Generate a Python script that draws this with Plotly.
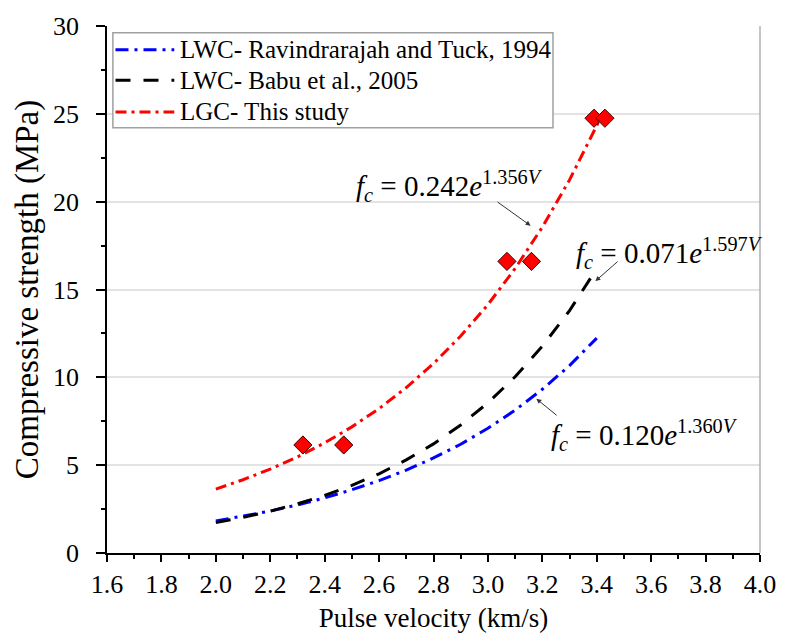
import plotly.graph_objects as go

# ---- data ----
v_grid = [2.0, 2.1, 2.2, 2.3, 2.4, 2.5, 2.6, 2.7, 2.8, 2.9, 3.0, 3.1, 3.2, 3.3, 3.4]
fc_ravindrarajah = [1.82, 2.09, 2.39, 2.74, 3.14, 3.60, 4.12, 4.72, 5.41, 6.19, 7.10, 8.13, 9.32, 10.67, 12.23]
fc_babu = [1.73, 2.03, 2.38, 2.80, 3.28, 3.85, 4.51, 5.30, 6.21, 7.29, 8.55, 10.03, 11.77, 13.80, 16.19]
v_lgc = [2.0, 2.1, 2.2, 2.3, 2.4, 2.5, 2.6, 2.7, 2.8, 2.9, 3.0, 3.1, 3.2, 3.3, 3.4, 3.42]
fc_lgc = [3.64, 4.17, 4.78, 5.47, 6.27, 7.18, 8.22, 9.42, 10.78, 12.35, 14.14, 16.20, 18.55, 21.24, 24.33, 25.00]
v_meas = [2.32, 2.47, 3.07, 3.16, 3.39, 3.43]
fc_meas = [6.15, 6.15, 16.6, 16.6, 24.75, 24.75]

series_names = ["LWC- Ravindrarajah and Tuck, 1994", "LWC- Babu et al., 2005", "LGC- This study"]
x_ticks = [1.6, 1.8, 2.0, 2.2, 2.4, 2.6, 2.8, 3.0, 3.2, 3.4, 3.6, 3.8, 4.0]
y_ticks = [0, 5, 10, 15, 20, 25, 30]

FONT = "Liberation Serif"
colors = ["#0000ff", "#000000", "#ff0000"]
dashes = ["13px,6px,3px,6px", "15px,13px", "11px,5px,3px,5px"]

fig = go.Figure()
fig.add_trace(go.Scatter(x=v_grid, y=fc_ravindrarajah, mode="lines", name=series_names[0],
                         line=dict(color=colors[0], width=3, dash=dashes[0])))
fig.add_trace(go.Scatter(x=v_grid, y=fc_babu, mode="lines", name=series_names[1],
                         line=dict(color=colors[1], width=3, dash=dashes[1])))
fig.add_trace(go.Scatter(x=v_lgc, y=fc_lgc, mode="lines", name=series_names[2],
                         line=dict(color=colors[2], width=3, dash=dashes[2])))
fig.add_trace(go.Scatter(x=v_meas, y=fc_meas, mode="markers", showlegend=False,
                         marker=dict(symbol="diamond", size=14, color="#ff0000",
                                     line=dict(color="#3a0000", width=1))))

ann_font = dict(family=FONT, size=29, color="black")
fig.add_annotation(x=2.509, y=20.9, xref="x", yref="y", xanchor="left", yanchor="middle", showarrow=False,
                   text="<i>f</i><sub><i>c</i></sub> = 0.242<i>e</i><sup>1.356<i>V</i></sup>", font=ann_font)
fig.add_annotation(x=3.315, y=17.1, xref="x", yref="y", xanchor="left", yanchor="middle", showarrow=False,
                   text="<i>f</i><sub><i>c</i></sub> = 0.071<i>e</i><sup>1.597<i>V</i></sup>", font=ann_font)
fig.add_annotation(x=3.225, y=6.7, xref="x", yref="y", xanchor="left", yanchor="middle", showarrow=False,
                   text="<i>f</i><sub><i>c</i></sub> = 0.120<i>e</i><sup>1.360<i>V</i></sup>", font=ann_font)

arrows = [((3.030, 20.04), (3.157, 18.63)), ((3.482, 16.66), (3.395, 15.48)), ((3.258, 7.77), (3.178, 8.78))]
for (tx, ty), (hx, hy) in arrows:
    fig.add_annotation(x=hx, y=hy, ax=tx, ay=ty, xref="x", yref="y", axref="x", ayref="y",
                       showarrow=True, arrowhead=2, arrowsize=1, arrowwidth=1, arrowcolor="#333333", text="")

# right border
fig.add_shape(type="line", xref="paper", yref="paper", x0=1, x1=1, y0=0, y1=1,
              line=dict(color="#b0b0b0", width=1.5))

# legend box (drawn by hand for exact spacing)
fig.add_shape(type="rect", xref="paper", yref="paper", x0=0.009, x1=0.683, y0=0.807, y1=0.987,
              line=dict(color="#a0a0a0", width=1.5), fillcolor="white", layer="above")
row_y = [0.955, 0.897, 0.837]
for name, col, dsh, ry in zip(series_names, colors, dashes, row_y):
    fig.add_shape(type="line", xref="paper", yref="paper", x0=0.013, x1=0.103, y0=ry, y1=ry,
                  line=dict(color=col, width=3, dash=dsh), layer="above")
    fig.add_annotation(x=0.109, y=ry, xref="paper", yref="paper", xanchor="left", yanchor="middle",
                       showarrow=False, text=name, font=dict(family=FONT, size=25, color="black"))

fig.update_layout(
    width=788, height=642,
    margin=dict(l=107, r=18, t=20, b=89),
    paper_bgcolor="white", plot_bgcolor="white",
    font=dict(family=FONT, size=22, color="black"),
    showlegend=False,
    xaxis=dict(range=[1.6, 4.0], tickvals=x_ticks, ticktext=[f"{t:.1f}" for t in x_ticks],
               showgrid=False, zeroline=False, showline=True, linecolor="black", linewidth=1.5,
               ticks="outside", ticklen=7, tickwidth=1.5, tickcolor="black",
               minor=dict(dtick=0.1, ticks="outside", ticklen=4, tickwidth=1.5, tickcolor="black", showgrid=False),
               tickfont=dict(family=FONT, size=26),
               title=dict(text="Pulse velocity (km/s)", font=dict(family=FONT, size=27), standoff=10)),
    yaxis=dict(range=[0, 30], tickvals=y_ticks, showgrid=True, gridcolor="#e3e3e3", gridwidth=1.5,
               zeroline=False, showline=True, linecolor="black", linewidth=1.5,
               ticks="outside", ticklen=9, tickwidth=1.5, tickcolor="black", ticklabelstandoff=12,
               minor=dict(dtick=2.5, ticks="outside", ticklen=4, tickwidth=1.5, tickcolor="black", showgrid=False),
               tickfont=dict(family=FONT, size=26),
               title=dict(text="Compressive strength (MPa)", font=dict(family=FONT, size=33), standoff=4)),
)

fig.write_html("out.html")
